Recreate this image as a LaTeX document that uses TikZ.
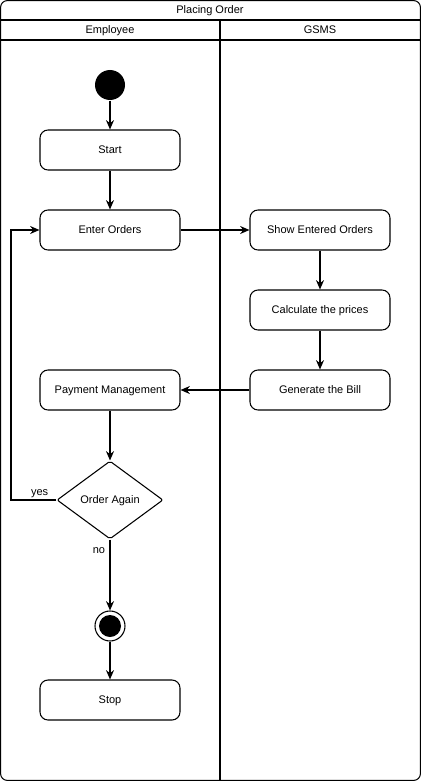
\documentclass[tikz,border=0pt]{standalone}
\usepackage{fontspec}
\setmainfont{Liberation Sans}
\usepackage{tikz}
\usetikzlibrary{%
    shapes.geometric,%
    arrows.meta%
}

\begin{document}
\begin{tikzpicture}[
  x=0.75pt,y=-0.75pt,
  font={\fontsize{8.25pt}{10pt}\selectfont},
  line width=0.8pt,
  every node/.style={text depth=0pt},
  action/.style={draw,rounded corners=6pt,minimum width=105pt,
    minimum height=30pt,inner sep=0pt},
  choice/.style={diamond,draw,rounded corners=1.5pt,minimum width=79.5pt,
    minimum height=58.5pt,inner sep=0pt},
  initial/.style={circle,fill=black,minimum size=22.5pt,inner sep=0pt},
  final/.style={circle,draw,minimum size=22.5pt,inner sep=0pt},
  finaldot/.style={circle,fill=black,minimum size=16.5pt,inner sep=0pt},
  flow/.style={-{Stealth[length=7pt,width=6pt]}},
  ]
  \useasboundingbox (0,0) rectangle (421,781);
  % Pool and lanes
  \draw[rounded corners=5pt] (0.6,0.6) rectangle (420.4,780.4);
  \draw (0.6,20) -- (420.4,20);
  \draw (0.6,40) -- (420.4,40);
  \draw (220,20) -- (220,780.4);
  \node (title) at (210,10) {Placing Order};
  \node (employee) at (110,30) {Employee};
  \node (gsms) at (320,30) {GSMS};
  % Employee lane
  \node[initial] (init) at (110,85) {};
  \node[action] (start) at (110,150) {Start};
  \node[action] (enter) at (110,230) {Enter Orders};
  \node[action] (pay) at (110,390) {Payment Management};
  \node[choice] (again) at (110,500) {Order Again};
  \node[final] (end) at (110,626) {};
  \node[finaldot] (enddot) at (end) {};
  \node[action] (stop) at (110,700) {Stop};
  % GSMS lane
  \node[action] (show) at (320,230) {Show Entered Orders};
  \node[action] (calc) at (320,310) {Calculate the prices};
  \node[action] (bill) at (320,390) {Generate the Bill};
  % Flows
  \coordinate (loop) at (11,500);
  \draw[flow] (init) -- (start);
  \draw[flow] (start) -- (enter);
  \draw[flow] (enter) -- (show);
  \draw[flow] (show) -- (calc);
  \draw[flow] (calc) -- (bill);
  \draw[flow] (bill) -- (pay);
  \draw[flow] (pay) -- (again);
  \draw[flow] (again.west) -- node[pos=0.37,above]{yes} (loop) |- (enter.west);
  \draw[flow] (again.south) -- node[pos=0.15,left]{no} (end);
  \draw[flow] (end) -- (stop);
\end{tikzpicture}
\end{document}
